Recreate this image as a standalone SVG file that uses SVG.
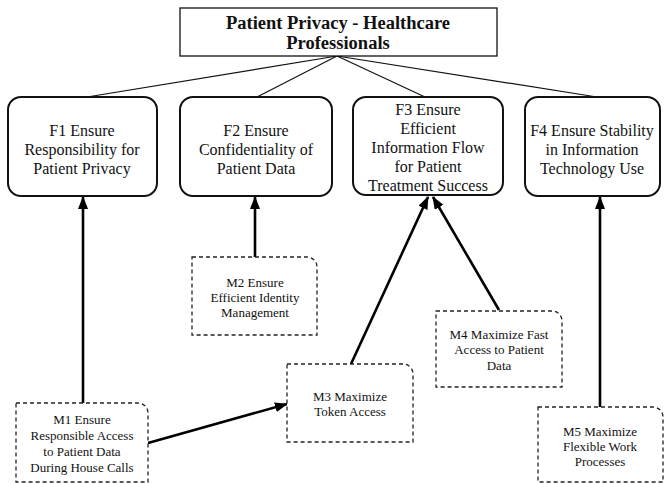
<svg xmlns="http://www.w3.org/2000/svg" width="668" height="484" viewBox="0 0 668 484">
<style>
text{fill:#111;text-anchor:middle}
.t{font-size:18.5px;font-weight:bold}
.f{font-size:16px}
.m{font-size:13px}
.fb{fill:#fff;stroke:#111;stroke-width:2}
.mb{fill:#fff;stroke:#222;stroke-width:1.3;stroke-dasharray:4 3}
.tl{stroke:#111;stroke-width:1.2;fill:none}
.ar{stroke:#000;stroke-width:2.6;fill:none;marker-end:url(#ah)}
</style>
<defs>
<marker id="ah" markerUnits="userSpaceOnUse" markerWidth="14" markerHeight="11" refX="12" refY="5" orient="auto">
<path d="M0,0 L13,5 L0,10 Z" fill="#000"/>
</marker>
</defs>
<rect width="668" height="484" fill="#fff"/>
<g id="connectors">
<line class="tl" x1="337" y1="56" x2="87" y2="97"/>
<line class="tl" x1="337" y1="56" x2="257" y2="97"/>
<line class="tl" x1="337" y1="56" x2="425" y2="97"/>
<line class="tl" x1="337" y1="56" x2="597" y2="97"/>
<line class="ar" x1="83" y1="403" x2="83" y2="197"/>
<line class="ar" x1="255" y1="257" x2="255" y2="197"/>
<line class="ar" x1="351" y1="364" x2="428" y2="197"/>
<line class="ar" x1="499" y1="310" x2="433" y2="197"/>
<line class="ar" x1="600" y1="407" x2="600" y2="197"/>
<line class="ar" x1="148" y1="443" x2="287" y2="404"/>
</g>
<g font-family="Liberation Serif">
<g id="top">
<rect x="180" y="8" width="317" height="48" fill="#fff" stroke="#111" stroke-width="1.3"/>
<text class="t" x="338" y="29">Patient Privacy - Healthcare</text>
<text class="t" x="338" y="49">Professionals</text>
</g>
<g id="F1">
<rect class="fb" x="8" y="97" width="149" height="99" rx="13"/>
<text class="f" x="82" y="136">F1 Ensure</text>
<text class="f" x="82" y="155">Responsibility for</text>
<text class="f" x="82" y="174">Patient Privacy</text>
</g>
<g id="F2">
<rect class="fb" x="180" y="97" width="152" height="99" rx="13"/>
<text class="f" x="256" y="136">F2 Ensure</text>
<text class="f" x="256" y="155">Confidentiality of</text>
<text class="f" x="256" y="174">Patient Data</text>
</g>
<g id="F3">
<rect class="fb" x="353" y="97" width="150" height="98" rx="13"/>
<text class="f" x="428" y="115">F3 Ensure</text>
<text class="f" x="428" y="134">Efficient</text>
<text class="f" x="428" y="153">Information Flow</text>
<text class="f" x="428" y="172">for Patient</text>
<text class="f" x="428" y="191">Treatment Success</text>
</g>
<g id="F4">
<rect class="fb" x="525" y="97" width="135" height="99" rx="13"/>
<text class="f" x="592" y="136">F4 Ensure Stability</text>
<text class="f" x="592" y="155">in Information</text>
<text class="f" x="592" y="174">Technology Use</text>
</g>
<g id="M1">
<path class="mb" d="M16,403 H138 A10,10 0 0 1 148,413 V482 H16 Z"/>
<text class="m" x="82" y="424">M1 Ensure</text>
<text class="m" x="82" y="440">Responsible Access</text>
<text class="m" x="82" y="456">to Patient Data</text>
<text class="m" x="82" y="472">During House Calls</text>
</g>
<g id="M2">
<path class="mb" d="M192,257 H307 A10,10 0 0 1 317,267 V335 H192 Z"/>
<text class="m" x="255" y="287">M2 Ensure</text>
<text class="m" x="255" y="302">Efficient Identity</text>
<text class="m" x="255" y="317">Management</text>
</g>
<g id="M3">
<path class="mb" d="M287,364 H403 A10,10 0 0 1 413,374 V442 H287 Z"/>
<text class="m" x="350" y="401">M3 Maximize</text>
<text class="m" x="350" y="416">Token Access</text>
</g>
<g id="M4">
<path class="mb" d="M436,311 H552 A10,10 0 0 1 562,321 V387 H436 Z"/>
<text class="m" x="499" y="339">M4 Maximize Fast</text>
<text class="m" x="499" y="354">Access to Patient</text>
<text class="m" x="499" y="370">Data</text>
</g>
<g id="M5">
<path class="mb" d="M538,407 H653 A10,10 0 0 1 663,417 V482 H538 Z"/>
<text class="m" x="600" y="436">M5 Maximize</text>
<text class="m" x="600" y="451">Flexible Work</text>
<text class="m" x="600" y="466">Processes</text>
</g>
</g>
</svg>
